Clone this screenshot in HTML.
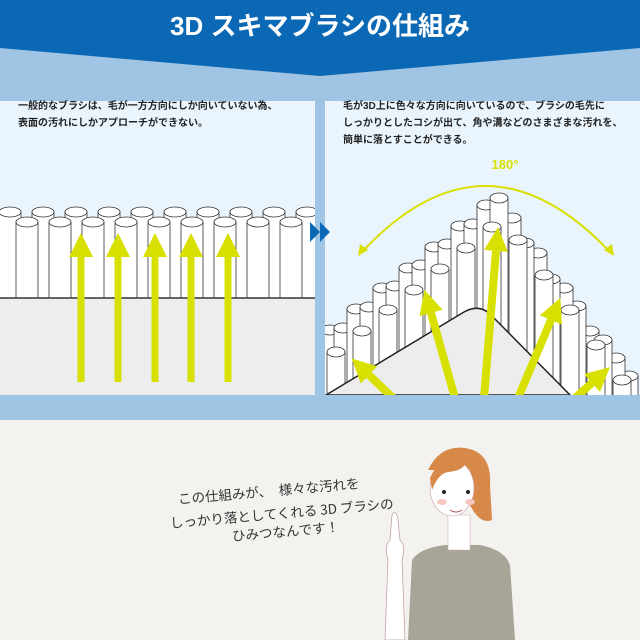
<!DOCTYPE html>
<html><head><meta charset="utf-8"><style>
html,body{margin:0;padding:0}
body{width:640px;height:640px;overflow:hidden;position:relative;background:#f3f2ef;font-family:"Liberation Sans","Noto Sans CJK JP",sans-serif}
.t{position:absolute;font-size:10px;color:#222;line-height:17px;font-weight:bold}
.h{position:absolute;font-family:"Noto Sans CJK JP",sans-serif;font-size:13.5px;color:#333;white-space:nowrap;transform:rotate(-5deg);transform-origin:left center}
rect.c,ellipse{fill:#fff;stroke:#333;stroke-width:.8}
</style></head><body>
<svg width="640" height="640" style="position:absolute;left:0;top:0">
<defs>
<marker id="m" viewBox="0 0 24 24" refX="0" refY="12" markerWidth="24" markerHeight="24" markerUnits="userSpaceOnUse" orient="auto"><path d="M0,0 L24,12 L0,24 Z" fill="#d8e000"/></marker>
<clipPath id="cp"><rect x="325" y="101" width="315" height="294"/></clipPath>
<clipPath id="cl"><rect x="0" y="101" width="315" height="294"/></clipPath>
</defs>
<rect x="0" y="0" width="640" height="420" fill="#a0c4e4"/>
<polygon points="0,0 640,0 640,48 320,76 0,48" fill="#0b68b4"/>
<rect x="0" y="101" width="315" height="294" fill="#eaf4fc"/>
<rect x="325" y="101" width="315" height="294" fill="#eaf4fc"/>
<rect x="0" y="298" width="315" height="97" fill="#ededed"/>
<g clip-path="url(#cl)">
<rect class="c" x="-1" y="212" width="22" height="86"/><ellipse cx="10" cy="212" rx="11" ry="5"/>
<rect class="c" x="32" y="212" width="22" height="86"/><ellipse cx="43" cy="212" rx="11" ry="5"/>
<rect class="c" x="65" y="212" width="22" height="86"/><ellipse cx="76" cy="212" rx="11" ry="5"/>
<rect class="c" x="98" y="212" width="22" height="86"/><ellipse cx="109" cy="212" rx="11" ry="5"/>
<rect class="c" x="131" y="212" width="22" height="86"/><ellipse cx="142" cy="212" rx="11" ry="5"/>
<rect class="c" x="164" y="212" width="22" height="86"/><ellipse cx="175" cy="212" rx="11" ry="5"/>
<rect class="c" x="197" y="212" width="22" height="86"/><ellipse cx="208" cy="212" rx="11" ry="5"/>
<rect class="c" x="230" y="212" width="22" height="86"/><ellipse cx="241" cy="212" rx="11" ry="5"/>
<rect class="c" x="263" y="212" width="22" height="86"/><ellipse cx="274" cy="212" rx="11" ry="5"/>
<rect class="c" x="296" y="212" width="22" height="86"/><ellipse cx="307" cy="212" rx="11" ry="5"/>
<rect class="c" x="16" y="222" width="22" height="76"/><ellipse cx="27" cy="222" rx="11" ry="5"/>
<rect class="c" x="49" y="222" width="22" height="76"/><ellipse cx="60" cy="222" rx="11" ry="5"/>
<rect class="c" x="82" y="222" width="22" height="76"/><ellipse cx="93" cy="222" rx="11" ry="5"/>
<rect class="c" x="115" y="222" width="22" height="76"/><ellipse cx="126" cy="222" rx="11" ry="5"/>
<rect class="c" x="148" y="222" width="22" height="76"/><ellipse cx="159" cy="222" rx="11" ry="5"/>
<rect class="c" x="181" y="222" width="22" height="76"/><ellipse cx="192" cy="222" rx="11" ry="5"/>
<rect class="c" x="214" y="222" width="22" height="76"/><ellipse cx="225" cy="222" rx="11" ry="5"/>
<rect class="c" x="247" y="222" width="22" height="76"/><ellipse cx="258" cy="222" rx="11" ry="5"/>
<rect class="c" x="280" y="222" width="22" height="76"/><ellipse cx="291" cy="222" rx="11" ry="5"/>
</g>
<line x1="0" y1="298" x2="315" y2="298" stroke="#333" stroke-width="1.5"/>
<g stroke="#d8e000" stroke-width="7" marker-end="url(#m)">
<line x1="81" y1="382" x2="81" y2="257"/>
<line x1="118" y1="382" x2="118" y2="257"/>
<line x1="155" y1="382" x2="155" y2="257"/>
<line x1="191" y1="382" x2="191" y2="257"/>
<line x1="228" y1="382" x2="228" y2="257"/>
</g>
<polygon points="310,222 320,232 310,242" fill="#0b68b4"/>
<polygon points="320,222 330,232 320,242" fill="#0b68b4"/>
<g clip-path="url(#cp)">
<rect class="c" x="321" y="330" width="18" height="70"/><ellipse cx="330" cy="330" rx="9" ry="5"/>
<rect class="c" x="334" y="328" width="18" height="72"/><ellipse cx="343" cy="328" rx="9" ry="5"/>
<rect class="c" x="347" y="309" width="18" height="91"/><ellipse cx="356" cy="309" rx="9" ry="5"/>
<rect class="c" x="360" y="307" width="18" height="93"/><ellipse cx="369" cy="307" rx="9" ry="5"/>
<rect class="c" x="373" y="288" width="18" height="112"/><ellipse cx="382" cy="288" rx="9" ry="5"/>
<rect class="c" x="386" y="286" width="18" height="114"/><ellipse cx="395" cy="286" rx="9" ry="5"/>
<rect class="c" x="399" y="268" width="18" height="132"/><ellipse cx="408" cy="268" rx="9" ry="5"/>
<rect class="c" x="412" y="265" width="18" height="135"/><ellipse cx="421" cy="265" rx="9" ry="5"/>
<rect class="c" x="425" y="247" width="18" height="153"/><ellipse cx="434" cy="247" rx="9" ry="5"/>
<rect class="c" x="438" y="244" width="18" height="156"/><ellipse cx="447" cy="244" rx="9" ry="5"/>
<rect class="c" x="451" y="226" width="18" height="174"/><ellipse cx="460" cy="226" rx="9" ry="5"/>
<rect class="c" x="464" y="224" width="18" height="176"/><ellipse cx="473" cy="224" rx="9" ry="5"/>
<rect class="c" x="590" y="376" width="18" height="24"/><ellipse cx="599" cy="376" rx="9" ry="5"/>
<rect class="c" x="620" y="376" width="18" height="24"/><ellipse cx="629" cy="376" rx="9" ry="5"/>
<rect class="c" x="607" y="358" width="18" height="42"/><ellipse cx="616" cy="358" rx="9" ry="5"/>
<rect class="c" x="581" y="331" width="18" height="69"/><ellipse cx="590" cy="331" rx="9" ry="5"/>
<rect class="c" x="594" y="340" width="18" height="60"/><ellipse cx="603" cy="340" rx="9" ry="5"/>
<rect class="c" x="568" y="306" width="18" height="94"/><ellipse cx="577" cy="306" rx="9" ry="5"/>
<rect class="c" x="555" y="288" width="18" height="112"/><ellipse cx="564" cy="288" rx="9" ry="5"/>
<rect class="c" x="542" y="279" width="18" height="121"/><ellipse cx="551" cy="279" rx="9" ry="5"/>
<rect class="c" x="529" y="253" width="18" height="147"/><ellipse cx="538" cy="253" rx="9" ry="5"/>
<rect class="c" x="516" y="243" width="18" height="157"/><ellipse cx="525" cy="243" rx="9" ry="5"/>
<rect class="c" x="503" y="218" width="18" height="182"/><ellipse cx="512" cy="218" rx="9" ry="5"/>
<rect class="c" x="477" y="205" width="18" height="195"/><ellipse cx="486" cy="205" rx="9" ry="5"/>
<rect class="c" x="490" y="198" width="18" height="202"/><ellipse cx="499" cy="198" rx="9" ry="5"/>
<rect class="c" x="327" y="352" width="18" height="48"/><ellipse cx="336" cy="352" rx="9" ry="5"/>
<rect class="c" x="353" y="331" width="18" height="69"/><ellipse cx="362" cy="331" rx="9" ry="5"/>
<rect class="c" x="379" y="310" width="18" height="90"/><ellipse cx="388" cy="310" rx="9" ry="5"/>
<rect class="c" x="405" y="290" width="18" height="110"/><ellipse cx="414" cy="290" rx="9" ry="5"/>
<rect class="c" x="431" y="269" width="18" height="131"/><ellipse cx="440" cy="269" rx="9" ry="5"/>
<rect class="c" x="457" y="248" width="18" height="152"/><ellipse cx="466" cy="248" rx="9" ry="5"/>
<rect class="c" x="483" y="227" width="18" height="173"/><ellipse cx="492" cy="227" rx="9" ry="5"/>
<rect class="c" x="509" y="240" width="18" height="160"/><ellipse cx="518" cy="240" rx="9" ry="5"/>
<rect class="c" x="535" y="275" width="18" height="125"/><ellipse cx="544" cy="275" rx="9" ry="5"/>
<rect class="c" x="561" y="310" width="18" height="90"/><ellipse cx="570" cy="310" rx="9" ry="5"/>
<rect class="c" x="587" y="345" width="18" height="55"/><ellipse cx="596" cy="345" rx="9" ry="5"/>
<rect class="c" x="613" y="380" width="18" height="20"/><ellipse cx="622" cy="380" rx="9" ry="5"/>
<path d="M326,395 L464,312 Q480,303 492,316 L570,395 Z" fill="#ededed" stroke="#222" stroke-width="1.5"/>
<g stroke="#d8e000" stroke-width="8" marker-end="url(#m)">
<line x1="393" y1="398" x2="369" y2="375"/>
<line x1="455" y1="398" x2="431" y2="313"/>
<line x1="484" y1="398" x2="496" y2="251"/>
<line x1="518" y1="398" x2="551" y2="320"/>
<line x1="575" y1="398" x2="592" y2="383"/>
</g>
</g>
<path d="M362,252 Q485,120 610,252" fill="none" stroke="#d8e000" stroke-width="2"/>
<polygon points="358,256 360,244 368,250" fill="#d8e000"/>
<polygon points="614,256 612,244 604,250" fill="#d8e000"/>
<text x="505" y="169" text-anchor="middle" font-size="13" font-weight="bold" fill="#d8e000" font-family="Liberation Sans">180°</text>
<text x="320" y="35" text-anchor="middle" font-size="26" font-weight="bold" fill="#fff" font-family="Liberation Sans,Noto Sans CJK JP">3D スキマブラシの仕組み</text>
<path d="M408,640 L412,560 Q420,548 445,545 L480,545 Q505,550 510,565 L515,640 Z" fill="#a9a498"/>
<rect x="448" y="515" width="22" height="35" fill="#fff" stroke="#caa" stroke-width=".5"/>
<path d="M428,470 Q440,445 465,448 Q492,452 490,485 L492,520 Q480,525 470,505 L470,470 Z" fill="#d7894a"/>
<ellipse cx="452" cy="488" rx="22" ry="28" style="fill:#fff;stroke:#c9a;stroke-width:.6"/>
<path d="M430,478 Q440,455 465,455 Q470,470 448,472 Q438,474 432,490 Z" fill="#d7894a"/>
<circle cx="444" cy="492" r="2" fill="#222"/><circle cx="468" cy="492" r="2" fill="#222"/>
<ellipse cx="442" cy="502" rx="5" ry="3" style="fill:#f4c8c0;stroke:none"/><ellipse cx="470" cy="502" rx="5" ry="3" style="fill:#f4c8c0;stroke:none"/>
<path d="M450,510 Q456,514 462,510" stroke="#a55" fill="none"/>
<path d="M385,640 L388,560 Q384,545 390,540 L392,515 Q396,508 398,520 L400,540 Q406,545 402,560 L405,640 Z" fill="#fff" stroke="#b99" stroke-width=".7"/>
</svg>
<div class="t" style="left:18px;top:98px">一般的なブラシは、毛が一方方向にしか向いていない為、<br>表面の汚れにしかアプローチができない。</div>
<div class="t" style="left:343px;top:98px">毛が3D上に色々な方向に向いているので、ブラシの毛先に<br>しっかりとしたコシが出て、角や溝などのさまざまな汚れを、<br>簡単に落とすことができる。</div>
<div class="h" style="left:178px;top:488px">この仕組みが、　様々な汚れを</div>
<div class="h" style="left:170px;top:512px">しっかり落としてくれる 3D ブラシの</div>
<div class="h" style="left:232px;top:525px">ひみつなんです！</div>
</body></html>
